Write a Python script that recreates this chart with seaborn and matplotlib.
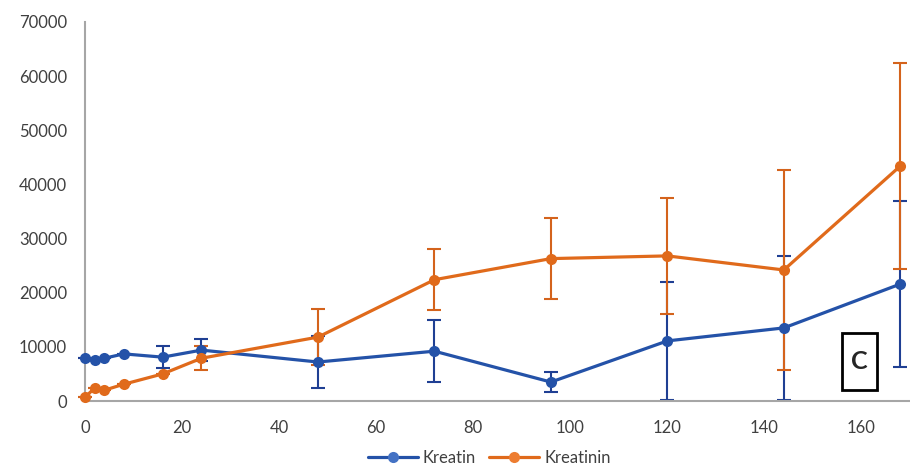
import pandas as pd
import matplotlib
matplotlib.use("Agg")
import matplotlib.pyplot as plt
from matplotlib.patches import Rectangle
import seaborn as sns

hours = [0, 2, 4, 8, 16, 24, 48, 72, 96, 120, 144, 168]
kreatin = [8000, 7600, 7900, 8700, 8100, 9400, 7200, 9200, 3500, 11100, 13500, 21600]
kreatin_sd = [0, 0, 0, 0, 2000, 2100, 4800, 5700, 1900, 10900, 13300, 15300]
kreatinin = [700, 2400, 2000, 3100, 5000, 7900, 11800, 22400, 26300, 26800, 24200, 43400]
kreatinin_sd = [0, 0, 0, 0, 0, 2200, 5200, 5600, 7500, 10700, 18500, 19000]

df = pd.concat([
    pd.DataFrame({"hour": hours, "value": kreatin, "sd": kreatin_sd, "series": "Kreatin"}),
    pd.DataFrame({"hour": hours, "value": kreatinin, "sd": kreatinin_sd, "series": "Kreatinin"}),
])

line_cols = {"Kreatin": "#2452a8", "Kreatinin": "#e06a1b"}
marker_cols = {"Kreatin": "#4472c4", "Kreatinin": "#ed7d31"}
err_cols = {"Kreatin": "#1f3f93", "Kreatinin": "#d4631c"}

sns.set_style("white")
plt.rcParams["font.family"] = ["Lato", "DejaVu Sans"]

fig = plt.figure(figsize=(9.1, 4.65), dpi=100)
ax = fig.add_axes([85 / 910, 64 / 465, 825 / 910, 379 / 465])

# error bars first, lines on top
for name, grp in df.groupby("series"):
    ax.errorbar(grp["hour"], grp["value"], yerr=grp["sd"], fmt="none",
                ecolor=err_cols[name], elinewidth=1.5, capsize=5, capthick=1.5,
                zorder=2, clip_on=False)

sns.lineplot(data=df, x="hour", y="value", hue="series", palette=line_cols,
             marker="o", markersize=8, linewidth=2.3, markeredgewidth=0,
             ax=ax, zorder=3, clip_on=False)
for line, name in zip(ax.lines, ["Kreatin", "Kreatinin"]):
    line.set_markerfacecolor(marker_cols[name])

ax.set_xlim(0, 170)
ax.set_ylim(0, 70000)
ax.set_xticks(range(0, 161, 20))
ax.set_yticks(range(0, 70001, 10000))
ax.set_xlabel("")
ax.set_ylabel("")
ax.tick_params(axis="both", length=0, labelsize=12, colors="#404040")
ax.tick_params(axis="x", pad=14)
ax.tick_params(axis="y", pad=13)
for s in ["top", "right"]:
    ax.spines[s].set_visible(False)
for s in ["left", "bottom"]:
    ax.spines[s].set_color("#a6a6a6")
    ax.spines[s].set_linewidth(1.5)

handles, labels = ax.get_legend_handles_labels()
for h, name in zip(handles, labels):
    h.set_markerfacecolor(marker_cols[name])
ax.legend(handles, labels, loc="upper center", bbox_to_anchor=(0.49, -0.09),
          ncol=2, frameon=False, fontsize=12, handlelength=3, columnspacing=0.8,
          handletextpad=0.3, labelcolor="#404040")

# panel label box
ax.add_patch(Rectangle((156, 2000), 7.2, 10500, facecolor="white", edgecolor="black",
                       linewidth=2, zorder=5))
ax.text(159.6, 7250, "C", fontsize=18, fontweight="bold", ha="center", va="center",
        zorder=6)

fig.savefig("out.png", dpi=100)
